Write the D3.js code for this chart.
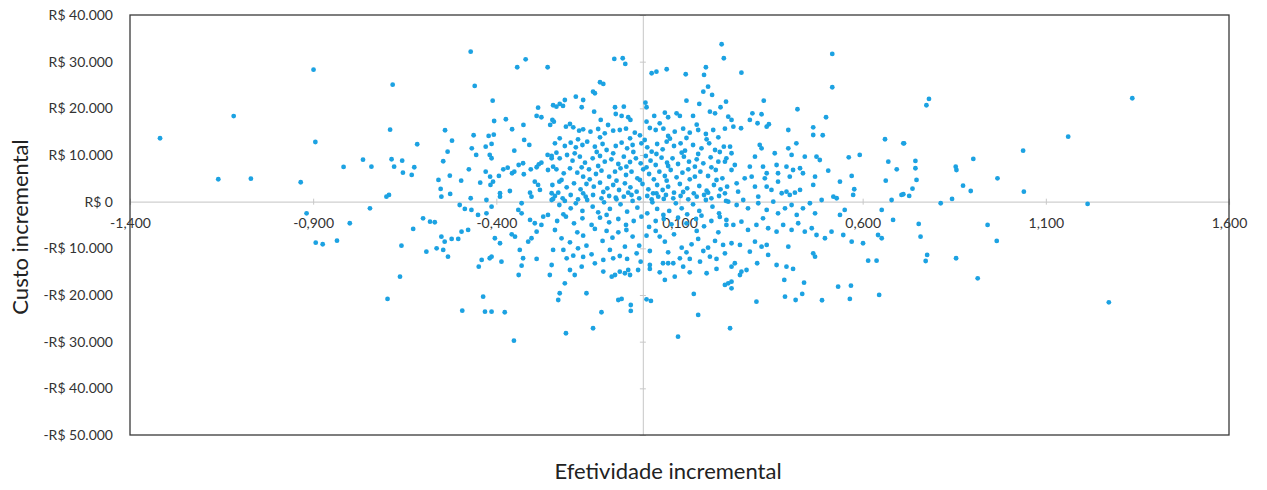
<!DOCTYPE html>
<html lang="pt-BR">
<head>
<meta charset="utf-8">
<script src="https://cdn.jsdelivr.net/npm/d3@7"></script>
<style>
  html, body { margin: 0; padding: 0; background: #ffffff; }
  svg { display: block; }
</style>
</head>
<body>
<svg id="chart" width="1267" height="490"></svg>
<script>
// Simulações de custo-efetividade: [efetividade incremental, custo incremental (R$)]
const pontosOeste = [
  [-1.318,13590],[-1.159,4800],[-1.117,18340],[-1.070,4930],[-0.934,4160],[-0.899,28290],[-0.894,12790],
  [-0.817,7440],[-0.764,9000],[-0.741,7500],[-0.918,-2490],[-0.745,-1420],[-0.800,-4630],[-0.893,-8790],
  [-0.874,-9130],[-0.835,-8360],
  [-0.470,32150],[-0.320,30510],[-0.343,28800],[-0.260,28800],[-0.683,25070],[-0.459,24800],[-0.410,21640],
  [-0.286,20140],[-0.290,18370],[-0.277,18090],[-0.245,20660],[-0.406,17290],[-0.374,17660],[-0.357,15520],
  [-0.326,16440],[-0.253,16440],[-0.690,15430],[-0.540,15300],[-0.462,14230],[-0.421,14080],[-0.407,14360],
  [-0.521,13070],[-0.616,12300],[-0.413,12370],[-0.429,11790],[-0.324,13220],[-0.310,12150],[-0.467,11440],
  [-0.533,10720],[-0.455,10010],[-0.418,10010],[-0.413,9300],[-0.351,10930],[-0.260,10010],[-0.249,9300],
  [-0.686,9090],[-0.657,8790],[-0.545,8660],[-0.679,7500],[-0.624,7370],[-0.655,6210],[-0.631,5720],
  [-0.475,6940],[-0.527,5570],[-0.558,4650],[-0.552,2720],[-0.496,4500],[-0.444,4070],[-0.429,6430],
  [-0.417,5360],[-0.409,4290],[-0.416,3580],[-0.393,5510],[-0.381,6940],[-0.369,7290],[-0.357,6090],
  [-0.351,6430],[-0.339,7860],[-0.327,8230],[-0.325,5870],[-0.306,6940],[-0.290,7370],[-0.284,8010],
  [-0.277,8360],[-0.259,6790],[-0.295,4290],[-0.286,3580],[-0.281,2510],[-0.363,2290],[-0.390,1800],
  [-0.308,1930],[-0.249,1800],[-0.693,1440],[-0.700,1070],[-0.526,1650],[-0.470,730],
  [-0.550,1070],[-0.427,360],[-0.390,1070],[-0.331,-340],[-0.304,1070],[-0.249,360],
  [-0.500,-710],[-0.486,-1560],[-0.468,-1780],[-0.413,-1070],[-0.450,-2850],[-0.427,-2490],[-0.600,-3560],
  [-0.581,-4290],[-0.568,-4410],[-0.340,-1780],[-0.331,-2490],[-0.308,-3920],[-0.295,-4630],[-0.272,-3210],
  [-0.259,-2850],[-0.277,-4990],[-0.627,-5850],[-0.495,-6430],[-0.477,-6060],[-0.522,-7990],[-0.504,-7990],
  [-0.550,-7500],[-0.541,-8570],[-0.404,-7840],[-0.390,-8910],[-0.349,-7500],[-0.358,-6990],[-0.336,-10350],
  [-0.313,-8570],[-0.304,-7840],[-0.290,-6430],[-0.659,-9430],[-0.591,-10710],[-0.563,-9990],[-0.545,-10350],
  [-0.532,-11790],[-0.386,-12860],[-0.413,-11790],[-0.418,-12130],[-0.440,-12490],[-0.448,-13930],
  [-0.331,-13720],[-0.327,-12130],[-0.290,-12280],[-0.249,-13570],[-0.254,-15710],[-0.339,-15710],
  [-0.663,-16070],[-0.697,-20850],[-0.436,-20360],[-0.493,-23360],[-0.431,-23570],[-0.413,-23570],
  [-0.377,-23700],[-0.352,-29790]
];

// Faixa central, acima do eixo horizontal
const pontosCentroAlto = [
  [-0.078,30580],[-0.055,30730],[-0.048,29510],[-0.117,25590],[-0.108,25220],[-0.136,23570],[-0.131,23230],
  [0.024,27520],[0.037,27860],[0.065,28370],[0.117,27300],[0.172,28800],[0.167,27150],[0.215,33730],
  [0.221,30730],[0.165,23570],[0.178,24640],[0.189,22870],[-0.213,21790],[-0.227,20940],[-0.236,20360],
  [-0.218,20510],[-0.183,22500],[-0.163,21790],[-0.167,20230],[-0.133,19290],[-0.076,20230],[-0.052,20360],
  [-0.074,18790],[-0.058,18370],[-0.040,18090],[-0.034,17510],[-0.115,17510],[-0.247,17510],[0.007,21220],
  [0.010,20230],[0.031,18370],[0.060,19070],[0.069,18090],[0.092,18940],[0.101,18370],[0.119,21640],
  [0.154,20940],[0.137,18370],[0.183,19290],[0.197,18940],[0.212,20230],[0.227,21430],[0.233,18220],
  [0.010,17140],[-0.243,17140],
  [-0.210,16070],[-0.190,15930],[-0.174,15210],[-0.163,15500],[-0.143,15000],[-0.122,15570],[-0.104,14640],
  [-0.081,15210],[-0.063,15360],[-0.046,15640],[-0.022,14790],[-0.008,14210],[0.019,15790],[0.035,15360],
  [0.056,15640],[0.069,14070],[0.087,15000],[0.110,15640],[0.128,14790],[0.151,15360],[0.172,14500],
  [0.192,15360],[0.206,13790],[0.224,15640],
  [-0.199,16640],[-0.095,16430],[0.046,16790],[0.147,16500],
  [-0.227,13570],[-0.177,13360],[-0.117,13790],[-0.035,13570],[0.005,13210],[0.074,13500],[0.119,13640],
  [0.174,13360],
  [-0.240,12500],[-0.213,11930],[-0.197,12640],[-0.183,11640],[-0.165,12140],[-0.152,12860],[-0.131,11790],
  [-0.110,12360],[-0.099,11070],[-0.074,11930],[-0.058,12640],[-0.043,11430],[-0.028,12140],[-0.004,12500],
  [0.012,11640],[0.024,10710],[0.039,12360],[0.054,11210],[0.065,12860],[0.085,11930],[0.103,12500],
  [0.115,10930],[0.137,12140],[0.160,11430],[0.181,12500],[0.197,11070],[0.221,11790],
  [-0.236,10500],[-0.186,10360],[-0.126,10640],[-0.081,10360],[-0.026,10640],[0.037,10210],[0.106,10500],
  [0.151,10210],[0.210,10640],
  [-0.249,9790],[-0.227,9290],[-0.207,10000],[-0.192,8790],[-0.172,9640],[-0.158,8360],[-0.137,9290],
  [-0.117,9790],[-0.104,8570],[-0.086,9070],[-0.067,8070],[-0.052,9640],[-0.035,8500],[-0.019,9290],
  [-0.006,8210],[0.008,9790],[0.021,8790],[0.035,7860],[0.051,9430],[0.066,8360],[0.081,9290],[0.096,8070],
  [0.112,9640],[0.126,8570],[0.147,9070],[0.165,8210],[0.185,9500],[0.206,8570],[0.228,9290],
  [-0.245,7500],[-0.167,7360],[-0.122,7640],[-0.045,7500],[0.010,7360],[0.069,7640],[0.142,7500],[0.187,7360],
  [-0.236,6930],[-0.216,6070],[-0.199,7140],[-0.179,6210],[-0.163,5360],[-0.147,6930],[-0.128,5930],
  [-0.113,6640],[-0.092,5360],[-0.076,6430],[-0.061,7140],[-0.046,5710],[-0.031,6430],[-0.015,5000],
  [0.001,6930],[0.017,5930],[0.030,4790],[0.045,6430],[0.060,5500],[0.076,6790],[0.092,5210],[0.108,6210],
  [0.124,6930],[0.142,5360],[0.157,6430],[0.178,5500],[0.199,6790],[0.217,5000],
  [-0.222,4640],[-0.145,4790],[-0.072,4500],[-0.008,4640],[0.065,4500],[0.128,4790],[0.201,4640],
  [-0.247,3570],[-0.228,4290],[-0.208,3070],[-0.188,3930],[-0.170,2640],[-0.154,3790],[-0.134,3210],
  [-0.117,4070],[-0.097,2860],[-0.081,3570],[-0.065,2500],[-0.049,3930],[-0.034,3070],[-0.017,2140],
  [-0.001,3790],[0.015,2640],[0.028,1790],[0.039,3570],[0.054,2500],[0.069,3210],[0.085,1930],[0.101,3790],
  [0.121,2860],[0.139,1790],[0.154,3360],[0.174,2360],[0.194,3570],[0.212,2640],[0.230,3210],
  [-0.231,1930],[-0.163,1790],[-0.108,2070],[-0.040,1930],[0.037,1790],[0.110,2070],[0.178,1930],[0.224,1790],
  [-0.240,1210],[-0.219,710],[-0.197,1430],[-0.177,500],[-0.156,1070],[-0.136,1430],[-0.113,710],
  [-0.092,1210],[-0.072,500],[-0.052,1070],[-0.031,1430],[-0.010,710],[0.012,1210],[0.024,500],[0.042,1070],
  [0.063,1430],[0.083,710],[0.103,1210],[0.124,500],[0.147,1070],[0.167,1430],[0.187,710],[0.208,1210]
];

// Faixa central, abaixo do eixo horizontal
const pontosCentroBaixo = [
  [-0.245,580],[-0.228,-710],[-0.213,150],[-0.197,-1420],[-0.183,-350],[-0.165,-1990],[-0.152,360],
  [-0.137,-1070],[-0.122,-2280],[-0.106,-140],[-0.090,-1560],[-0.074,860],[-0.061,-570],[-0.043,-2140],
  [-0.028,150],[-0.015,-1280],[0.012,-2490],[0.026,-140],[0.039,-1560],[0.057,580],[0.072,-1990],
  [0.090,-350],[0.106,-1420],[0.121,-2710],[0.137,-570],[0.154,-1990],[0.172,360],[0.190,-1070],
  [0.208,-2490],[0.227,150],
  [-0.217,-2710],[-0.099,-2850],[0.056,-2850],[0.160,-3000],
  [-0.234,-4140],[-0.210,-3210],[-0.188,-4640],[-0.165,-3560],[-0.140,-4990],[-0.117,-3420],[-0.092,-4420],
  [-0.067,-3710],[-0.046,-4990],[-0.025,-4140],[-0.004,-3210],[0.017,-5420],[0.035,-4140],[0.057,-3710],
  [0.078,-4850],[0.096,-3420],[0.119,-4640],[0.145,-3710],[0.167,-5280],[0.187,-4140],[0.210,-3280],
  [0.228,-4990],
  [-0.240,-6070],[-0.099,-6280],[-0.045,-6070],[0.046,-7490],[0.147,-6280],[0.206,-6570],
  [-0.222,-7850],[-0.199,-8710],[-0.179,-6570],[-0.163,-7280],[-0.154,-9420],[-0.131,-5850],[-0.110,-8420],
  [-0.083,-7710],[-0.067,-6570],[-0.049,-9640],[-0.028,-7490],[-0.010,-9420],[0.010,-7280],[0.035,-6280],
  [0.060,-8570],[0.085,-6990],[0.106,-9850],[0.133,-9140],[0.151,-7990],[0.178,-9850],[0.197,-8420],
  [0.219,-9280],
  [-0.217,-10350],[-0.177,-9990],[-0.090,-10350],[0.019,-10570],[0.069,-10850],[0.119,-10850],
  [0.165,-10570],[0.224,-11060],
  [-0.245,-10350],[-0.208,-12140],[-0.190,-11570],[-0.163,-11850],[-0.140,-11280],[-0.131,-13210],
  [-0.108,-12490],[-0.081,-12140],[-0.063,-11640],[-0.043,-12280],[-0.017,-11060],[-0.006,-12850],
  [0.101,-12140],[0.128,-12280],[0.156,-12850],[0.183,-11780],[0.201,-12280],
  [-0.199,-14640],[-0.167,-13920],[-0.108,-14990],[0.019,-14420],[0.046,-15140],[0.110,-13920],
  [0.128,-15140],[0.201,-14420],
  [-0.085,-16070],[-0.076,-15710],[-0.063,-15000],[-0.049,-15340],[-0.040,-14640],[-0.035,-15710],
  [-0.013,-14640],[0.019,-13570],[0.055,-13200],[0.069,-13200],[0.083,-13200],
  [-0.186,-15710],[-0.213,-17490],[-0.227,-19630],[-0.231,-21070],[-0.154,-19630],[-0.210,-28200],
  [-0.136,-27130],[-0.113,-23700],[-0.067,-21070],[-0.058,-20850],[-0.033,-22140],[-0.033,-23420],
  [0.010,-20920],[0.022,-21280],[0.096,-28930],[0.139,-19780],[0.151,-24280],[0.060,-16780],[0.087,-16070],
  [0.174,-15340],[0.224,-17850]
];

const pontosLeste = [
  [0.517,31650],[0.517,24520],[0.269,27650],[0.422,19800],[0.500,18090],[0.330,21640],[0.465,15940],
  [0.465,14290],[0.491,14230],[0.397,15360],[0.299,18940],[0.324,18730],[0.292,17510],[0.313,16800],
  [0.338,16070],[0.344,16590],[0.242,17510],[0.268,15730],[0.247,16070],[0.661,13370],[0.711,12510],
  [0.670,8570],[0.693,6940],[0.663,4500],[0.592,10010],[0.562,9510],[0.570,5510],[0.538,4290],[0.577,2660],
  [0.574,1440],[0.506,6640],[0.419,12510],[0.442,9640],[0.474,9640],[0.483,8930],[0.360,10370],[0.397,11440],
  [0.406,10010],[0.306,9640],[0.319,12150],[0.324,11440],[0.238,11790],[0.242,10370],[0.224,8570],
  [0.251,7860],[0.242,6790],[0.292,7500],[0.297,5360],[0.328,7500],[0.338,6090],[0.333,5010],[0.338,3220],
  [0.365,7860],[0.369,6090],[0.369,4290],[0.392,7500],[0.401,5360],[0.410,6790],[0.429,7160],[0.437,6090],
  [0.465,3580],[0.470,5360],[0.379,1800],[0.392,2140],[0.401,1440],[0.415,1930],[0.429,2510],[0.278,5010],
  [0.306,3220],[0.315,1070],[0.256,3940],[0.260,2140],[0.351,2510],[0.520,1070],[0.706,1440],
  [0.488,360],[0.529,730],[0.551,-1780],[0.538,-2850],[0.652,-1780],[0.683,-3920],[0.679,360],[0.642,-7140],
  [0.652,-7840],[0.601,-8910],[0.570,-8570],[0.547,-7140],[0.615,-12640],[0.638,-12640],[0.533,-18210],
  [0.568,-18000],[0.565,-20850],[0.645,-19990],[0.489,-21130],[0.435,-19780],[0.417,-21070],[0.388,-20360],
  [0.386,-16780],[0.440,-17360],[0.310,-21430],[0.238,-27130],[0.465,-11060],[0.470,-11790],[0.397,-9640],
  [0.365,-13570],[0.392,-13930],[0.410,-14420],[0.312,-13200],[0.269,-15000],[0.283,-14640],[0.265,-15710],
  [0.242,-13930],[0.251,-13200],[0.233,-17490],[0.242,-17140],[0.242,-18560],[0.342,-11420],[0.324,-9640],
  [0.338,-9280],[0.292,-10710],[0.306,-8570],[0.265,-9280],[0.242,-8910],
  [0.233,0],[0.256,-710],[0.274,360],[0.287,-1420],[0.315,-340],[0.338,-1780],[0.356,0],[0.369,-2490],
  [0.388,-1420],[0.406,-710],[0.420,-2850],[0.437,-1420],[0.456,-340],[0.470,-2490],[0.228,-3920],
  [0.247,-4990],[0.269,-4290],[0.287,-6060],[0.310,-4990],[0.328,-3560],[0.342,-5700],[0.365,-6430],
  [0.383,-4990],[0.406,-6060],[0.424,-4630],[0.442,-6430],[0.461,-5700],[0.474,-7140],[0.497,-7840],
  [0.515,-6430],
  [0.781,22010],[0.774,20660],[1.336,22160],[1.161,13930],[1.038,10930],[0.713,12510],[0.902,9150],
  [0.744,8720],[0.744,7160],[0.747,4650],[0.736,2790],[0.854,7500],[0.856,6790],[0.874,3430],[0.895,2290],
  [0.968,5010],[1.040,2140],[0.711,1590],[0.727,1220],[0.844,580],
  [0.813,-340],[1.214,-490],[0.753,-4780],[0.758,-7500],[0.776,-11420],[0.772,-12710],[0.855,-12130],
  [0.941,-4990],[0.966,-8420],[0.914,-16420],[1.272,-21560]
];

const ticksEfetividade = [-1.4, -0.9, -0.4, 0.1, 0.6, 1.1, 1.6];
const ticksCusto = [40000, 30000, 20000, 10000, 0, -10000, -20000, -30000, -40000, -50000];

const simulacoes = pontosOeste.concat(pontosCentroAlto, pontosCentroBaixo, pontosLeste);

const ptBR = d3.formatLocale({
  decimal: ",", thousands: ".", grouping: [3], currency: ["R$ ", ""], minus: "-"
});
const fmtX = ptBR.format(".3f");
const fmtY = ptBR.format("$,.0f");

const area = { left: 130, right: 1229, top: 15, bottom: 435 };

const x = d3.scaleLinear().domain([-1.4, 1.6]).range([area.left, area.right]);
const y = d3.scaleLinear().domain([-50000, 40000]).range([area.bottom, area.top]);

const svg = d3.select("#chart");
const fontFam = "Lato, 'Open Sans', 'Liberation Sans', sans-serif";

// Linha vertical no zero da efetividade, com marcas de escala
const eixoV = svg.append("g")
  .attr("transform", `translate(${x(0)},0)`)
  .call(d3.axisLeft(y).tickValues(ticksCusto).tickSize(3).tickFormat(""));
eixoV.select(".domain").attr("stroke", "#d0d0d0").attr("stroke-width", 1.2);
eixoV.selectAll(".tick line").attr("stroke", "#c8c8c8").attr("x2", 3).attr("x1", -3);

// Linha horizontal no zero do custo, com rótulos da efetividade
const eixoH = svg.append("g")
  .attr("transform", `translate(0,${y(0)})`)
  .call(d3.axisBottom(x).tickValues(ticksEfetividade).tickSize(3).tickPadding(13).tickFormat(fmtX));
eixoH.select(".domain").attr("stroke", "#d0d0d0").attr("stroke-width", 1.2);
eixoH.selectAll(".tick line").attr("stroke", "#c8c8c8").attr("y1", -3).attr("y2", 3);
eixoH.selectAll(".tick text")
  .attr("font-family", fontFam).attr("font-size", 14).attr("fill", "#333");

// Pontos das simulações
svg.append("g")
  .selectAll("circle")
  .data(simulacoes)
  .join("circle")
  .attr("cx", d => x(d[0]))
  .attr("cy", d => y(d[1]))
  .attr("r", 2.4)
  .attr("fill", "#1ca2e2");

// Rótulos do custo, à esquerda da área do gráfico
const eixoY = svg.append("g")
  .attr("transform", `translate(${area.left},0)`)
  .call(d3.axisLeft(y).tickValues(ticksCusto).tickSize(0).tickPadding(17).tickFormat(fmtY));
eixoY.select(".domain").remove();
eixoY.selectAll(".tick text")
  .attr("font-family", fontFam).attr("font-size", 14).attr("fill", "#333");

// Moldura da área do gráfico
svg.append("rect")
  .attr("x", area.left).attr("y", area.top)
  .attr("width", area.right - area.left).attr("height", area.bottom - area.top)
  .attr("fill", "none").attr("stroke", "#3a3a3a").attr("stroke-width", 1.3);

// Títulos dos eixos
svg.append("text")
  .attr("x", 668).attr("y", 479)
  .attr("text-anchor", "middle")
  .attr("font-family", fontFam).attr("font-size", 22).attr("fill", "#222")
  .text("Efetividade incremental");

svg.append("text")
  .attr("transform", "translate(28,227) rotate(-90)")
  .attr("text-anchor", "middle")
  .attr("font-family", fontFam).attr("font-size", 22).attr("fill", "#222")
  .text("Custo incremental");
</script>
</body>
</html>
